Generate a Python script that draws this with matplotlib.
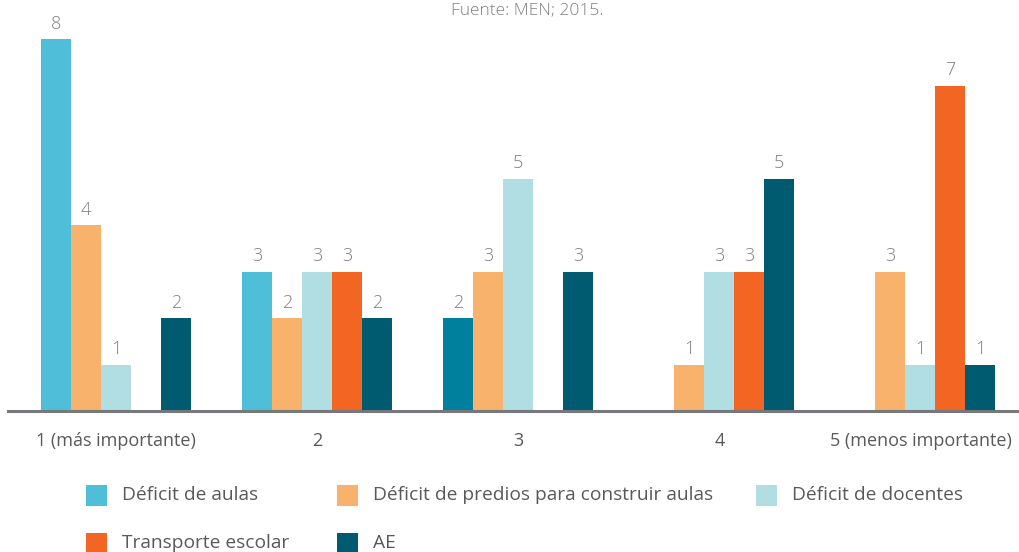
import matplotlib.pyplot as plt
from matplotlib.patches import Rectangle
import numpy as np

categories = ["1 (más importante)", "2", "3", "4", "5 (menos importante)"]
series_names = ["Déficit de aulas", "Déficit de predios para construir aulas",
                "Déficit de docentes", "Transporte escolar", "AE"]
aulas = [8, 3, 2, 0, 0]
predios = [4, 2, 3, 1, 3]
docentes = [1, 3, 5, 3, 1]
transporte = [0, 3, 0, 3, 7]
ae = [2, 2, 3, 5, 1]
values = [aulas, predios, docentes, transporte, ae]

colors = ["#4FBED8", "#F9B26B", "#B0DEE3", "#F26522", "#005A70"]
# the group-3 "aulas" bar is drawn darker in the original
aulas_colors = ["#4FBED8", "#4FBED8", "#00809D", "#4FBED8", "#4FBED8"]

plt.rcParams["font.family"] = ["Open Sans", "DejaVu Sans"]

fig = plt.figure(figsize=(10.19, 5.52), dpi=100)
ax = fig.add_axes([8 / 1019, (552 - 411) / 552, 1 - 8 / 1019, 372 / 552])

x = np.arange(len(categories))
w = 30 / 201
for i, vals in enumerate(values):
    pos = x + (i - 2) * w
    col = aulas_colors if i == 0 else colors[i]
    ax.bar(pos, vals, width=w, color=col, linewidth=0, zorder=2)
    for p, v in zip(pos, vals):
        if v > 0:
            ax.text(p, v + 0.13, str(v), ha="center", va="bottom",
                    fontsize=13, color="#808080", fontweight="light", clip_on=False)

ax.set_xlim(-0.537, 4.49)
ax.set_ylim(0, 8)
for s in ["top", "right", "left"]:
    ax.spines[s].set_visible(False)
ax.spines["bottom"].set_color("#77787B")
ax.spines["bottom"].set_linewidth(2.2)
ax.set_yticks([])
ax.set_xticks(x)
ax.set_xticklabels(categories, fontsize=13, color="#58595B")
ax.tick_params(axis="x", length=0, pad=15)

fig.text(527 / 1019, 1.0 - 2 / 552, "Fuente: MEN; 2015.", ha="center", va="top",
         fontsize=12.5, color="#808080", fontweight="light")

# legend
leg_pos = [(86, 495), (337, 495), (756, 495), (86, 543), (337, 543)]
for (lx, ly), name, c in zip(leg_pos, series_names, colors):
    fig.patches.append(Rectangle((lx / 1019, 1 - (ly + 11) / 552), 21 / 1019, 21 / 552,
                                 transform=fig.transFigure, color=c, linewidth=0))
    fig.text((lx + 36) / 1019, 1 - ly / 552, name, ha="left", va="center",
             fontsize=13.8, color="#58595B")

fig.savefig("out.png", dpi=100)
